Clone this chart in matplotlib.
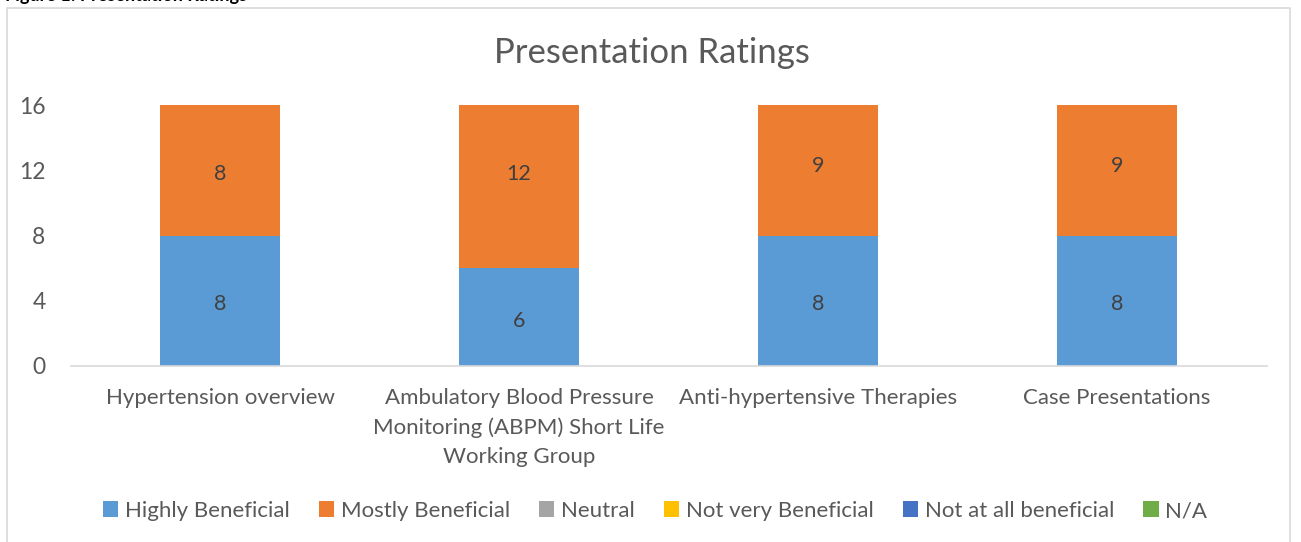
import matplotlib
matplotlib.use("Agg")
import matplotlib.pyplot as plt
from matplotlib.patches import Rectangle, Patch

plt.rcParams['font.family'] = ['Lato', 'DejaVu Sans']

categories = ["Hypertension overview",
              "Ambulatory Blood Pressure\nMonitoring (ABPM) Short Life\nWorking Group",
              "Anti-hypertensive Therapies",
              "Case Presentations"]
series_names = ["Highly Beneficial", "Mostly Beneficial", "Neutral",
                "Not very Beneficial", "Not at all beneficial", "N/A"]
colors = ["#5B9BD5", "#ED7D31", "#A5A5A5", "#FFC000", "#4472C4", "#70AD47"]
highly = [8, 6, 8, 8]
mostly = [8, 12, 9, 9]
yticks = [0, 4, 8, 12, 16]

W, H = 1301, 542
fig = plt.figure(figsize=(W/100, H/100), dpi=100)

# outer chart border
fig.patches.append(Rectangle((7/W, -0.05), (1290-7)/W, 1.05 - 8/H, transform=fig.transFigure,
                             fill=False, edgecolor="#D9D9D9", linewidth=1.2))
# caption at top, mostly cut off as in the source image
fig.text(5/W, 1 - 4/H, "Figure 1: Presentation Ratings", fontsize=13, fontweight="bold",
         color="black", ha="left", va="bottom")

ax = fig.add_axes([70.5/W, 1 - 366/H, (1266.5-70.5)/W, (366-105)/H])
x = list(range(len(categories)))
ax.bar(x, highly, width=0.4, color=colors[0], zorder=2)
ax.bar(x, mostly, width=0.4, bottom=highly, color=colors[1], zorder=2)
for i in x:
    ax.annotate(str(highly[i]), (i, highly[i] / 2), xytext=(0, -2.5), textcoords="offset points",
                ha="center", va="center", fontsize=15.5, color="#404040", zorder=3)
    ax.annotate(str(mostly[i]), (i, highly[i] + mostly[i] / 2), xytext=(0, -2.5),
                textcoords="offset points", ha="center", va="center",
                fontsize=15.5, color="#404040", zorder=3)

ax.set_xlim(-0.5, len(categories) - 0.5)
ax.set_ylim(0, 16)
ax.set_yticks(yticks)
ax.set_xticks(x)
ax.set_xticklabels(categories, fontsize=16, color="#595959", linespacing=1.55)
ax.tick_params(axis="y", labelsize=16.5, labelcolor="#595959", length=0, pad=18)
ax.tick_params(axis="x", length=0, pad=16)
for s in ["top", "right", "left"]:
    ax.spines[s].set_visible(False)
ax.spines["bottom"].set_color("#D9D9D9")
ax.spines["bottom"].set_linewidth(1.2)

fig.text(652/W, 1 - 53/H, "Presentation Ratings", fontsize=25, color="#595959",
         ha="center", va="center")

handles = [Patch(facecolor=c, edgecolor="none") for c in colors]
fig.legend(handles, series_names, loc="center", bbox_to_anchor=(655/W, 1 - 511/H), ncol=6,
           frameon=False, fontsize=16, labelcolor="#595959", handlelength=0.7,
           handleheight=0.7, handletextpad=0.3, columnspacing=1.3)

fig.savefig("out.png", dpi=100)
